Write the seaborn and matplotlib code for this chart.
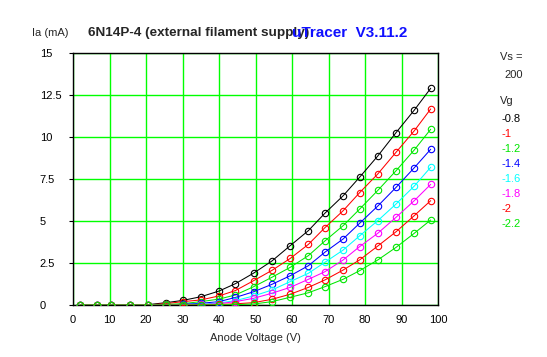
"""
Anode characteristic curves of a 6N14P-4 triode, as traced by uTracer.
"""
import matplotlib
matplotlib.use("Agg")
import matplotlib.pyplot as plt
import pandas as pd
import seaborn as sns

# anode voltage steps (V), shared by all sweeps
anode_v = [2, 6.5, 10.5, 15.5, 20.5, 25.5, 30, 35, 40, 44.5, 49.5,
           54.5, 59.5, 64.5, 69, 74, 78.5, 83.5, 88.5, 93.5, 98]

# grid voltages and their trace colours
grid_v = ["-0.8", "-1", "-1.2", "-1.4", "-1.6", "-1.8", "-2", "-2.2"]
trace_colors = ["#000000", "#ff0000", "#00e600", "#0000ff",
                "#00ffff", "#ff00ff", "#ff0000", "#00e600"]

# anode current (mA) per grid voltage
ia_m08 = [0, 0, 0, 0, 0.02, 0.14, 0.27, 0.49, 0.83, 1.27, 1.9,
          2.62, 3.53, 4.43, 5.46, 6.5, 7.6, 8.87, 10.26, 11.6, 12.9]
ia_m10 = [0, 0, 0, 0, 0, 0.08, 0.2, 0.3, 0.54, 0.86, 1.45,
          2.06, 2.77, 3.61, 4.6, 5.61, 6.68, 7.8, 9.09, 10.37, 11.67]
ia_m12 = [0, 0, 0, 0, 0, 0.03, 0.08, 0.2, 0.35, 0.6, 1.09,
          1.65, 2.24, 2.94, 3.81, 4.72, 5.7, 6.82, 7.99, 9.23, 10.46]
ia_m14 = [0, 0, 0, 0, 0, 0, 0.04, 0.1, 0.2, 0.45, 0.79,
          1.23, 1.74, 2.34, 3.14, 3.93, 4.86, 5.89, 7.0, 8.17, 9.27]
ia_m16 = [0, 0, 0, 0, 0, 0, 0.02, 0.05, 0.12, 0.26, 0.54,
          0.89, 1.39, 1.89, 2.54, 3.27, 4.11, 5.02, 6.01, 7.08, 8.2]
ia_m18 = [0, 0, 0, 0, 0, 0, 0.01, 0.03, 0.08, 0.2, 0.4,
          0.7, 1.05, 1.53, 1.98, 2.68, 3.47, 4.27, 5.22, 6.21, 7.18]
ia_m20 = [0, 0, 0, 0, 0, 0, 0, 0.01, 0.03, 0.07, 0.14,
          0.34, 0.64, 1.05, 1.49, 2.08, 2.68, 3.51, 4.36, 5.32, 6.21]
ia_m22 = [0, 0, 0, 0, 0, 0, 0, 0, 0.01, 0.02, 0.06,
          0.2, 0.46, 0.73, 1.09, 1.53, 2.04, 2.68, 3.43, 4.27, 5.06]

sweeps = [ia_m08, ia_m10, ia_m12, ia_m14, ia_m16, ia_m18, ia_m20, ia_m22]

x_ticks = list(range(0, 101, 10))
y_ticks = [0, 2.5, 5, 7.5, 10, 12.5, 15]
y_tick_labels = ["0", "2.5", "5", "7.5", "10", "12.5", "15"]

sns.set_style("white")
plt.rcParams["font.family"] = ["Liberation Sans", "DejaVu Sans"]

fig = plt.figure(figsize=(5.47, 3.57), dpi=100)
ax = fig.add_axes([73 / 547, 52 / 357, 365 / 547, 252 / 357])

df = pd.concat([
    pd.DataFrame({"va": anode_v, "ia": ia, "vg": vg})
    for vg, ia in zip(grid_v, sweeps)
])

for vg, color in zip(grid_v, trace_colors):
    sns.lineplot(
        data=df[df.vg == vg], x="va", y="ia", ax=ax, color=color,
        linewidth=0.75, marker="o", markersize=4.6,
        markerfacecolor="none", markeredgecolor=color,
        markeredgewidth=0.8, estimator=None, sort=False, zorder=3
    )

ax.set_xlim(0, 100)
ax.set_ylim(0, 15)
ax.set_xticks(x_ticks)
ax.set_yticks(y_ticks)
ax.set_yticklabels(y_tick_labels)
ax.grid(True, color="#00ff00", linewidth=1.0)
ax.set_axisbelow(True)
for spine in ax.spines.values():
    spine.set_color("black")
    spine.set_linewidth(1.0)

ax.tick_params(axis="x", length=0, pad=7, labelsize=8, colors="black")
ax.tick_params(axis="y", length=3, width=0.8, pad=21, labelsize=8,
               colors="black", left=True)
for label in ax.get_yticklabels():
    label.set_horizontalalignment("left")

ax.set_xlabel("Anode Voltage (V)", fontsize=8, labelpad=6)
ax.set_ylabel("")

fig.text(32 / 547, 1 - 33 / 357, "Ia (mA)", fontsize=8, va="center")
fig.text(88 / 547, 1 - 33 / 357, "6N14P-4 (external filament supply)",
         fontsize=9.7, fontweight="bold", va="center")
fig.text(292 / 547, 1 - 33 / 357, "uTracer  V3.11.2", fontsize=11,
         fontweight="bold", color="#1010ff", va="center")

fig.text(500 / 547, 1 - 57 / 357, "Vs =", fontsize=8, va="center")
fig.text(504 / 547, 1 - 75 / 357, "200", fontsize=8, va="center")
fig.text(500 / 547, 1 - 101 / 357, "Vg", fontsize=8, va="center")
for i, (vg, color) in enumerate(zip(grid_v, trace_colors)):
    fig.text(501 / 547, 1 - (119 + 15 * i) / 357, vg, fontsize=8,
             color=color, va="center")

fig.savefig("out.png", dpi=100)
